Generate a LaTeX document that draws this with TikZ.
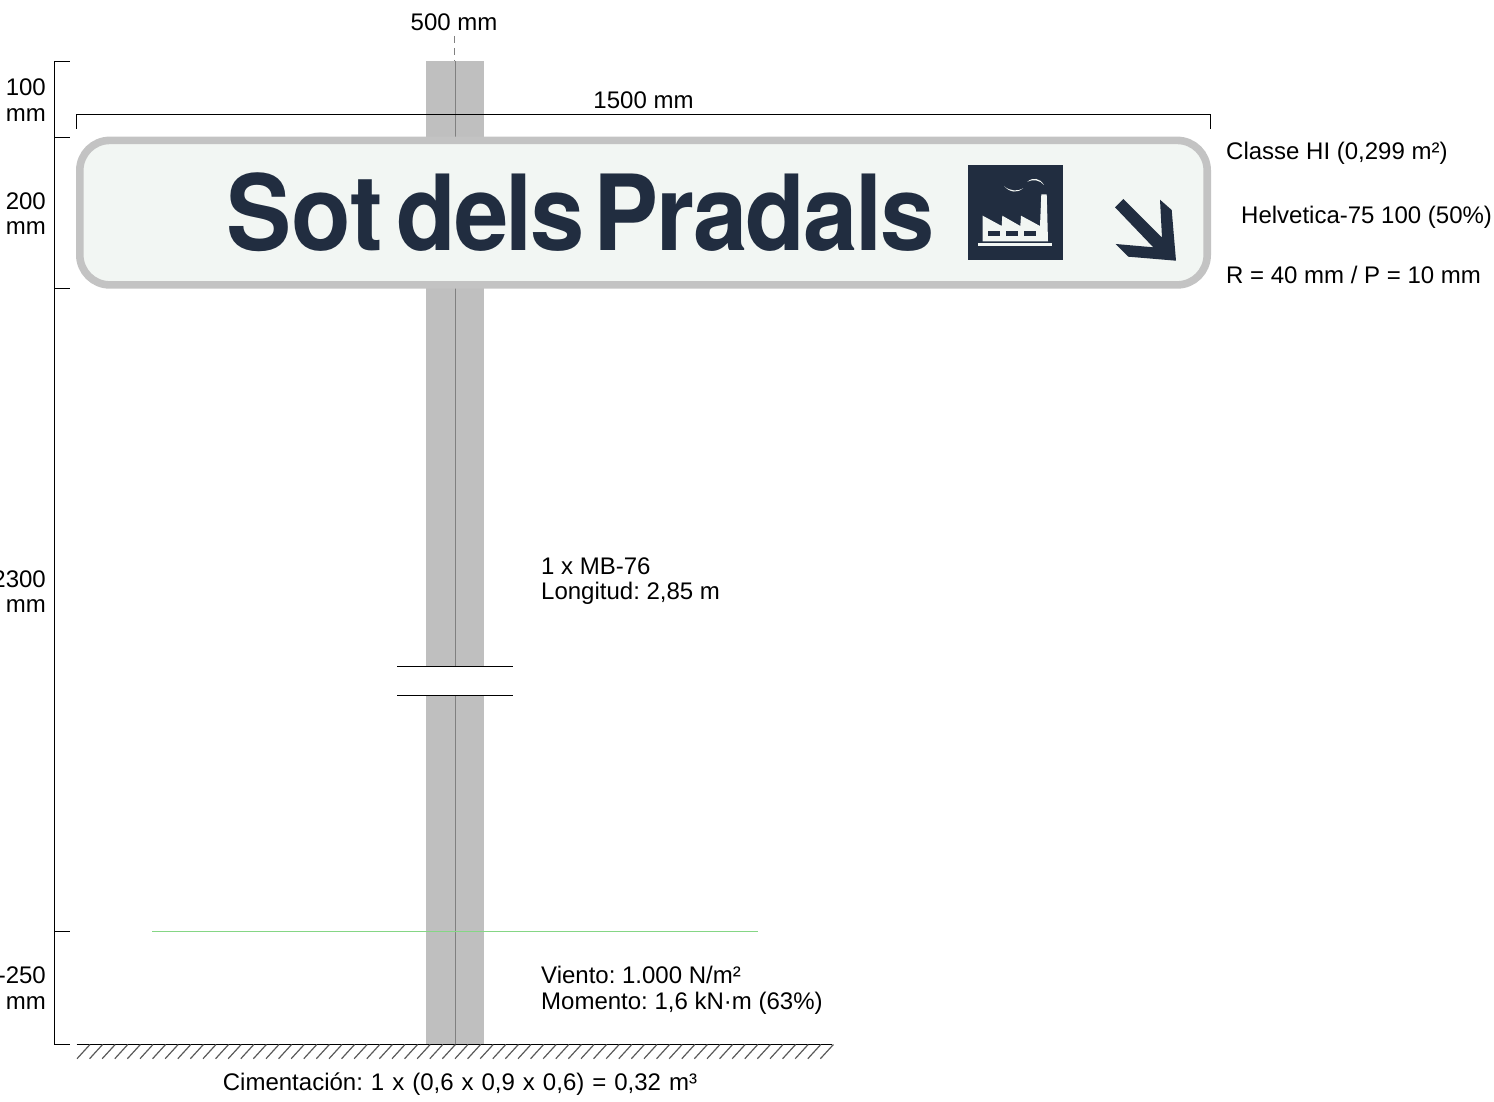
\documentclass[tikz,border=0pt]{standalone}
\usepackage{fontspec}
\setmainfont{Liberation Sans}
\newfontfamily\signfont[FakeStretch=0.93]{TeX Gyre Heros}
\usetikzlibrary{positioning}
\definecolor{navy}{HTML}{212D40}
\definecolor{panel}{HTML}{F2F6F3}
\definecolor{steel}{HTML}{BFBFBF}
\definecolor{rim}{HTML}{C3C3C3}
\definecolor{soil}{HTML}{85D685}

\begin{document}
\frenchspacing
\begin{tikzpicture}[x=1pt, y=-1pt, line join=miter,
    label/.style={font=\fontsize{24}{25.6}\selectfont, inner sep=0pt, align=left, text=black},
    dimlabel/.style={label, align=right, anchor=east},
    dim/.style={draw=black, line width=1pt},
    post/.style={fill=steel, draw=none},
    axis/.style={draw=gray, line width=0.9pt},
    cut/.style={draw=black, line width=1pt},
    hatchline/.style={draw=black!65, line width=1.2pt},
    signword/.style={font=\signfont\bfseries\fontsize{105}{105}\selectfont, text=navy, inner sep=0pt, anchor=base west},
    ink/.style={fill=navy, draw=none},
    pale/.style={fill=panel, draw=none}]
    \useasboundingbox (0,0) rectangle (1494,1102);

    % post
    \fill[post] (425.5,61) rectangle (484,666);
    \fill[post] (425.5,695) rectangle (484,1044);
    \coordinate (axtop) at (455.5,61);
    \coordinate (axcut) at (455.5,666);
    \coordinate (axres) at (455.5,695);
    \coordinate (axbot) at (455.5,1044);
    \draw[axis] (axtop) -- (axcut);
    \draw[axis] (axres) -- (axbot);
    \coordinate (dashtop) at (454.5,36);
    \coordinate (dashend) at (454.5,61);
    \draw[axis, dash pattern=on 7pt off 5pt] (dashtop) -- (dashend);

    % break in the post
    \coordinate (c1) at (397,666.5);
    \coordinate (c2) at (512.5,666.5);
    \coordinate (c3) at (397,695.5);
    \coordinate (c4) at (512.5,695.5);
    \draw[cut] (c1) -- (c2);
    \draw[cut] (c3) -- (c4);

    % plate
    \draw[fill=panel, draw=rim, line width=7.6pt, rounded corners=30pt] (79.8,140.4) rectangle (1207.2,284.9);
    \node[signword] (sot) at (226,250.7) {Sot};
    \node[signword] (dels) at (396.5,250.7) {\addfontfeature{LetterSpace=-2.3}dels};
    \node[signword] (pradals) at (593,250.7) {\addfontfeature{LetterSpace=-1.8}Pradals};

    % factory pictogram
    \fill[ink] (967.5,165) rectangle (1063,260);
    \fill[pale] (978.3,243.3) rectangle (1052,245.7);
    \fill[pale] (982.7,241.3) -- (982.7,215.7) -- (1001.7,226) -- (1002.3,215.7) -- (1020.3,226) -- (1021,215.7) -- (1040,226) -- (1041.3,194.3) -- (1046.7,194.3) -- (1048,241.3) -- cycle;
    \foreach \x in {988,1006.3,1024.3}
        \fill[ink] (\x,231) rectangle ++(12,5);
    \fill[pale] (1004,186) .. controls (1010,193) and (1018,193) .. (1023.3,188.3) .. controls (1018,191.5) and (1010,191.5) .. cycle;
    \fill[pale] (1027.3,181.7) .. controls (1033,177) and (1040,178) .. (1044,185) .. controls (1040,180) and (1033,179) .. cycle;

    % direction arrow
    \fill[ink] (1115,207.3) -- (1123.3,199) -- (1162,237.7) -- (1160,199.7) -- (1171.7,210) -- (1176,260.7) -- (1128.3,256.7) -- (1115.7,244) -- (1153.3,247.3) -- cycle;

    % top dimension
    \coordinate (wl) at (76.5,129);
    \coordinate (wla) at (76.5,114.5);
    \coordinate (wra) at (1210.5,114.5);
    \coordinate (wr) at (1210.5,129);
    \draw[dim] (wl) -- (wla) -- (wra) -- (wr);

    % left dimension
    \coordinate (h0) at (54.5,61.5);
    \coordinate (h1) at (54.5,137.5);
    \coordinate (h2) at (54.5,288.5);
    \coordinate (h3) at (54.5,931.5);
    \coordinate (h4) at (54.5,1044.5);
    \draw[dim] (h0) -- (h4);
    \foreach \n in {h0,h1,h2,h3,h4}
        \draw[dim] (\n) -- ++(15,0);

    % ground
    \coordinate (gl) at (152,931.5);
    \coordinate (gr) at (757.5,931.5);
    \draw[draw=soil, line width=1pt] (gl) -- (gr);
    \coordinate (sl) at (76.5,1044.5);
    \coordinate (sr) at (832,1044.5);
    \draw[dim] (sl) -- (sr);
    \foreach \i in {0,...,59}
        \draw[hatchline] (77+12.6*\i,1058.7) -- (90+12.6*\i,1044.5);

    % texts
    \node[label, anchor=center] (top) at (454,22) {500 mm};
    \node[label, anchor=center] (width) at (643.5,100) {1500 mm};
    \node[dimlabel] (d100) at (46,100) {100\\mm};
    \node[dimlabel] (d200) at (46,213.5) {200\\mm};
    \node[dimlabel] (d2300) at (46,591.5) {2300\\mm};
    \node[dimlabel] (d250) at (46,988) {-250\\mm};
    \node[label, anchor=west] (classe) at (1226,153) {Classe HI (0,299 m²)};
    \node[label, anchor=west] (helv) at (1241,217) {Helvetica-75 100 (50\%)};
    \node[label, anchor=west] (radio) at (1226,275) {R = 40 mm / P = 10 mm};
    \node[label, anchor=west] (mb) at (541,581) {1 x MB-76\\Longitud: 2,85 m};
    \node[label, anchor=west] (viento) at (541,990.5) {Viento: 1.000 N/m²\\Momento: 1,6 kN·m (63\%)};
    \node[label, anchor=center] (ciment) at (460,1084) {\spaceskip=8pt Cimentación: 1 x (0,6 x 0,9 x 0,6) = 0,32 m³};
\end{tikzpicture}
\end{document}
